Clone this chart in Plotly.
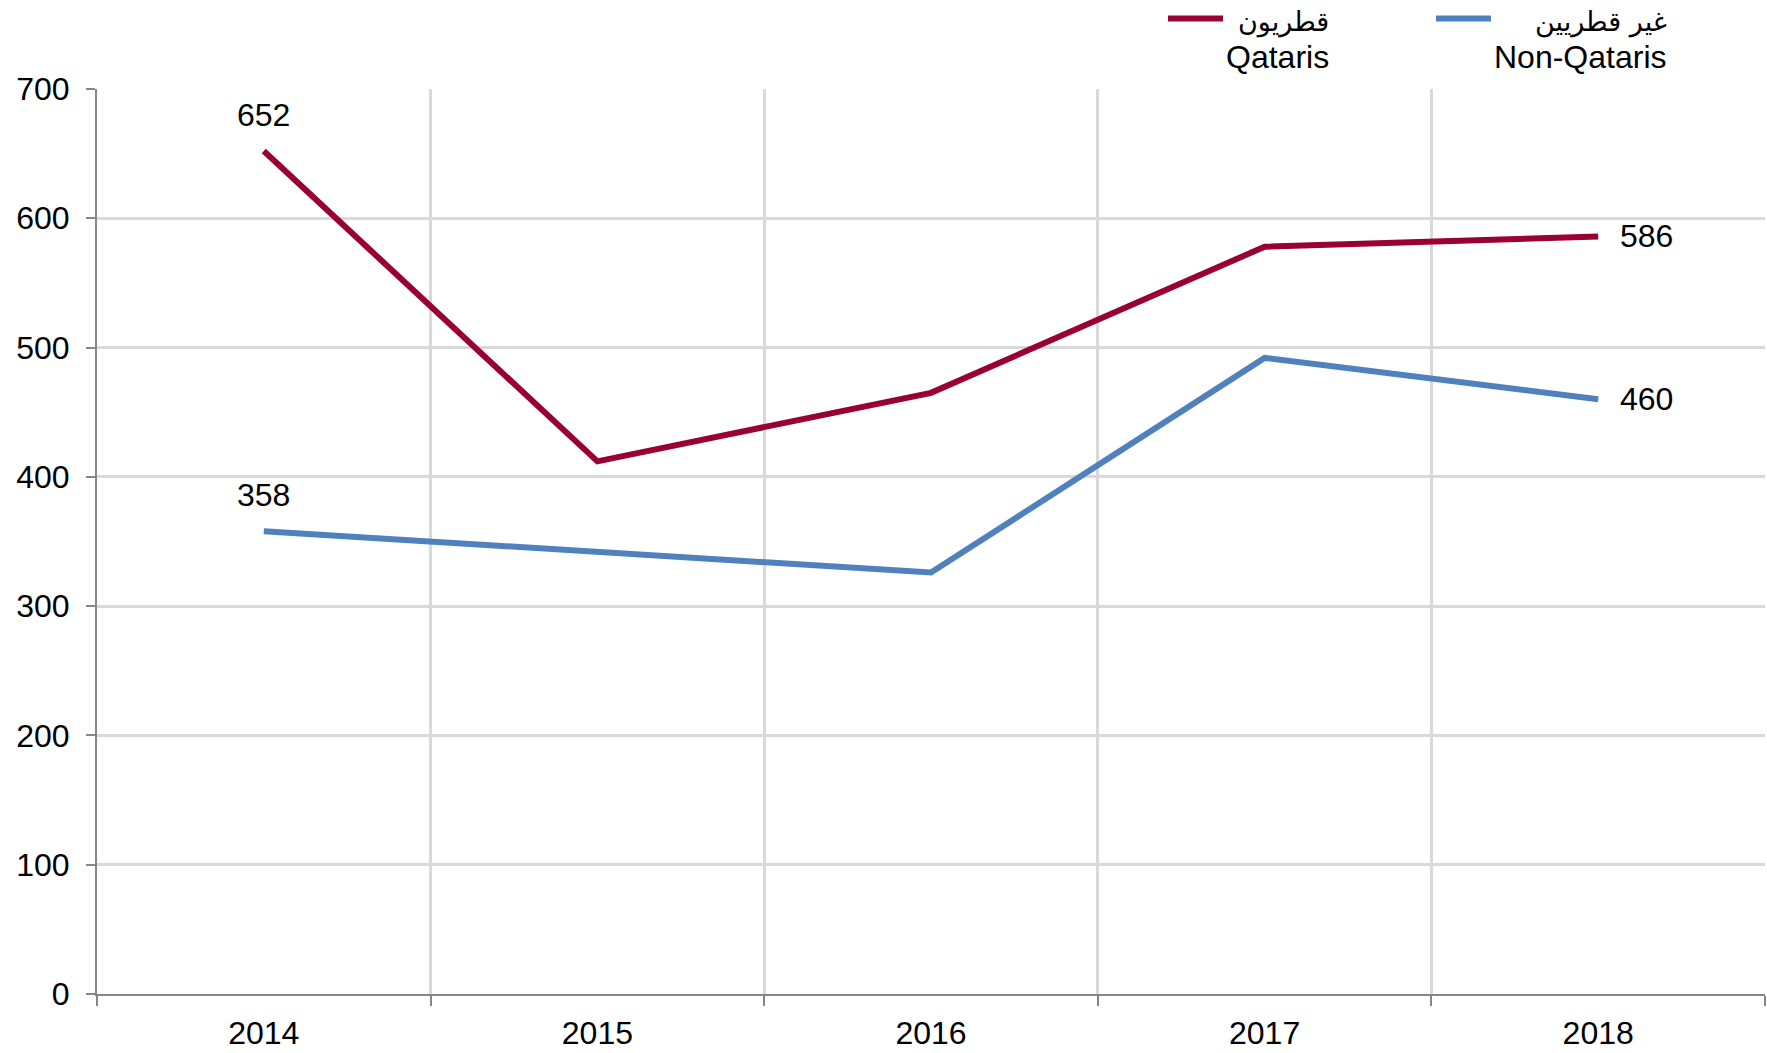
import plotly.graph_objects as go

years = [2014, 2015, 2016, 2017, 2018]
qataris = [652, 412, 465, 578, 586]
non_qataris = [358, 342, 326, 492, 460]
yticks = [0, 100, 200, 300, 400, 500, 600, 700]

RED = "#990033"
BLUE = "#4f81bd"
FONT = "Liberation Sans, Arial, sans-serif"

fig = go.Figure()
fig.add_trace(go.Scatter(x=years, y=qataris, mode="lines", line=dict(color=RED, width=6),
                         name="Qataris", showlegend=False, hoverinfo="skip"))
fig.add_trace(go.Scatter(x=years, y=non_qataris, mode="lines", line=dict(color=BLUE, width=6),
                         name="Non-Qataris", showlegend=False, hoverinfo="skip"))

# data labels
for series in (qataris, non_qataris):
    fig.add_annotation(x=years[0], y=series[0], text=str(series[0]), showarrow=False,
                       yshift=36, font=dict(size=32, color="black", family=FONT))
    fig.add_annotation(x=years[-1], y=series[-1], text=str(series[-1]), showarrow=False,
                       xanchor="left", xshift=20, font=dict(size=32, color="black", family=FONT))

# manual legend
legend_items = [("قطريون", "Qataris", RED, 1168, 1223, 1331),
                ("غير قطريين", "Non-Qataris", BLUE, 1436, 1491, 1669)]
W, H = 1767, 1053
PL, PR, PT, PB = 97, 1765, 89, 1000
def px_x(x):
    return (x - PL) / (PR - PL)
def px_y(y):
    return (PB - y) / (PB - PT)

for ar, en, col, x0, x1, xr in legend_items:
    fig.add_shape(type="line", xref="paper", yref="paper",
                  x0=px_x(x0), x1=px_x(x1), y0=px_y(18), y1=px_y(18),
                  line=dict(color=col, width=6))
    fig.add_annotation(xref="paper", yref="paper", x=px_x(xr), y=px_y(22), text=ar,
                       showarrow=False, xanchor="right", yanchor="middle",
                       font=dict(size=27, color="black", family="DejaVu Sans, sans-serif"))
    fig.add_annotation(xref="paper", yref="paper", x=px_x(xr), y=px_y(57), text=en,
                       showarrow=False, xanchor="right", yanchor="middle",
                       font=dict(size=32, color="black", family=FONT))

fig.update_layout(
    width=W, height=H,
    margin=dict(l=PL, r=W - PR, t=PT, b=H - PB),
    plot_bgcolor="white", paper_bgcolor="white",
    font=dict(family=FONT, size=32, color="black"),
    xaxis=dict(range=[2013.5, 2018.5], tickvals=years, ticktext=[str(y) for y in years],
               showgrid=False, zeroline=False, showline=True, linecolor="#868686", linewidth=2,
               ticks="outside", ticklen=10, tickcolor="rgba(0,0,0,0)",
               tickfont=dict(size=32),
               minor=dict(tick0=2013.5, dtick=1, showgrid=True, gridcolor="#d9d9d9", gridwidth=3,
                          ticks="outside", ticklen=10, tickcolor="#868686", tickwidth=2)),
    yaxis=dict(range=[0, 700], tickvals=yticks, showgrid=True, gridcolor="#d9d9d9", gridwidth=3,
               zeroline=False, showline=True, linecolor="#868686", linewidth=2,
               ticks="outside", ticklen=9, tickcolor="#868686", tickwidth=2,
               tickfont=dict(size=32), ticklabelstandoff=10),
)

fig.write_html("out.html", config={"displayModeBar": False},
               post_script="document.body.style.margin='0';document.body.style.overflow='hidden';")
